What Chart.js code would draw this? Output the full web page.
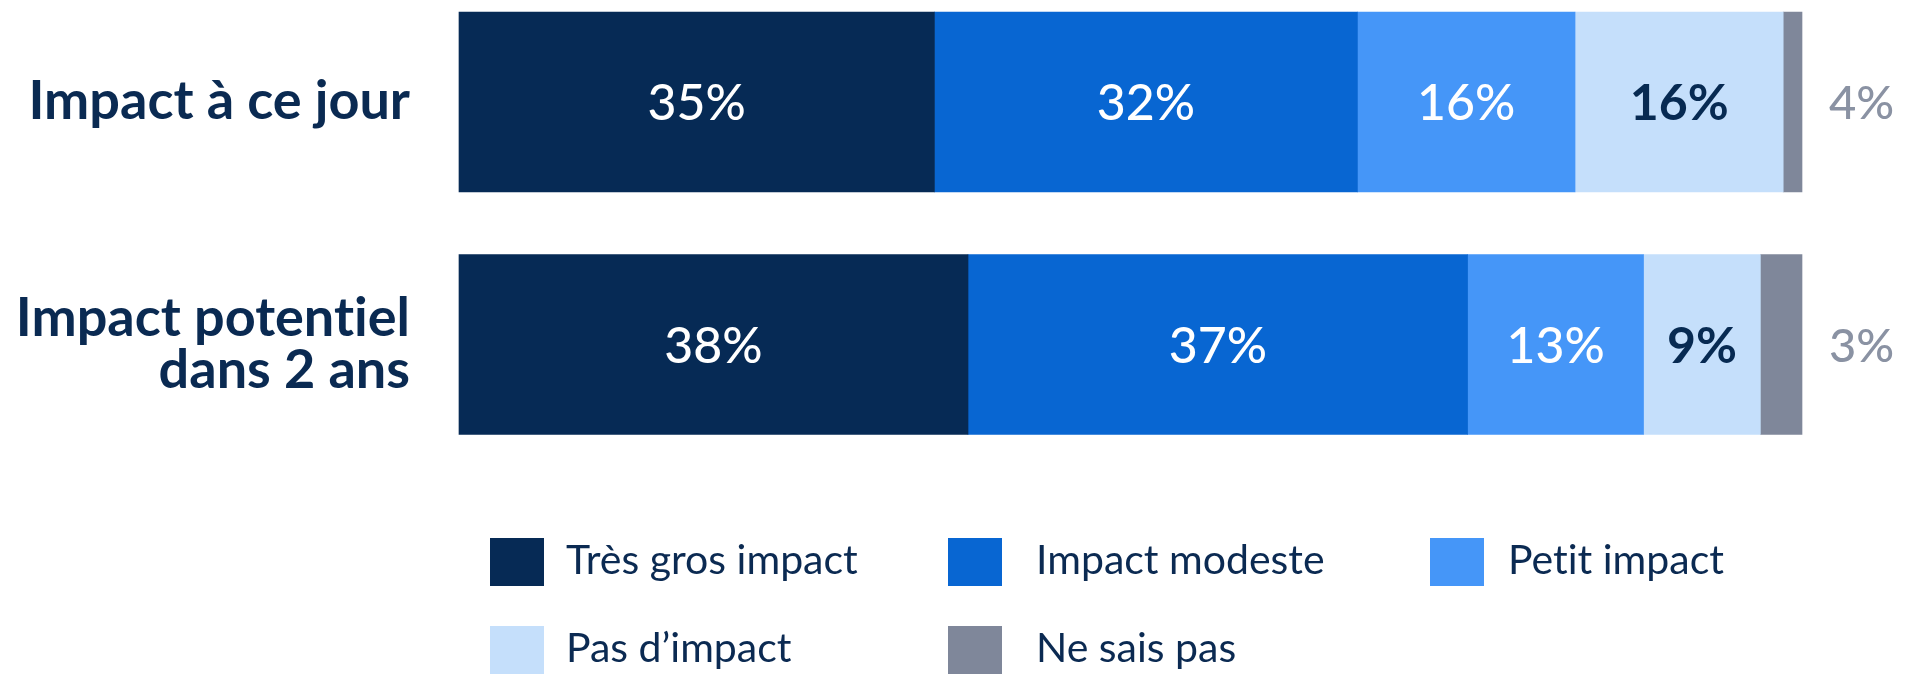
<!DOCTYPE html>
<html lang="fr">
<head>
<meta charset="utf-8">
<title>Impact</title>
<script src="https://cdn.jsdelivr.net/npm/chart.js@4.4.1/dist/chart.umd.min.js"></script>
<style>
  html, body { margin: 0; padding: 0; background: #fff; overflow: hidden; }
  #wrap { position: relative; width: 1922px; height: 678px; }
  #legend { position: absolute; left: 0; top: 0; width: 1922px; height: 678px; pointer-events: none; }
  .item { position: absolute; display: flex; align-items: center; font-family: Lato, sans-serif; font-size: 41px; color: #0b2a52; white-space: nowrap; font-variant-ligatures: none; }
  .item .box { width: 54px; height: 48px; margin-right: 24px; }
  .item .txt { position: relative; top: -3px; }
</style>
</head>
<body>
<div id="wrap">
  <canvas id="impactChart" width="1922" height="678"></canvas>
  <div id="legend"></div>
</div>
<script>
// categories (y axis)
const categories = [['Impact à ce jour'], ['Impact potentiel', 'dans 2 ans']];

// series names
const seriesNames = ['Très gros impact', 'Impact modeste', 'Petit impact', "Pas d’impact", 'Ne sais pas'];

// bar lengths as drawn in the picture (%)
const tresGros = [35.4, 37.9];
const modeste = [31.5, 37.2];
const petit = [16.2, 13.1];
const pasImpact = [15.5, 8.7];
const neSaisPas = [1.4, 3.1];

// percentages printed on the bars
const tresGrosPct = [35, 38];
const modestePct = [32, 37];
const petitPct = [16, 13];
const pasImpactPct = [16, 9];
const neSaisPasPct = [4, 3];

const colors = ['#062a55', '#0866d2', '#4596f8', '#c5dffb', '#7f879a'];
const labelColors = ['#ffffff', '#ffffff', '#ffffff', '#072a52', '#8a92a3'];

const navy = '#0a2a52';

// no "ti" ligature in the axis labels
const noLigatures = {
    id: 'noLigatures',
    beforeDraw(chart) {
        chart.ctx.textRendering = 'optimizeSpeed';
    }
};

// draws the percentages inside / next to each segment
const barLabels = {
    id: 'barLabels',
    afterDatasetsDraw(chart) {
        const ctx = chart.ctx;
        ctx.save();
        ctx.textBaseline = 'middle';
        chart.data.datasets.forEach((ds, di) => {
            const meta = chart.getDatasetMeta(di);
            meta.data.forEach((bar, i) => {
                const txt = ds.pct[i] + '%';
                ctx.fillStyle = ds.labelColor;
                if (ds.outside) {
                    ctx.font = '500 47px Lato, sans-serif';
                    ctx.textAlign = 'left';
                    ctx.fillText(txt, bar.x + 27, bar.y + 2);
                } else {
                    ctx.font = (ds.labelBold ? 'bold ' : '500 ') + '50px Lato, sans-serif';
                    ctx.textAlign = 'center';
                    ctx.fillText(txt, (bar.x + bar.base) / 2, bar.y + 2);
                }
            });
        });
        ctx.restore();
    }
};

const seriesValues = [tresGros, modeste, petit, pasImpact, neSaisPas];
const seriesPct = [tresGrosPct, modestePct, petitPct, pasImpactPct, neSaisPasPct];

const ctx = document.querySelector('#impactChart').getContext('2d');
const chart = new Chart(ctx, {
    type: 'bar',
    data: {
        labels: categories,
        datasets: seriesNames.map((name, k) => ({
            label: name,
            data: seriesValues[k],
            pct: seriesPct[k],
            backgroundColor: colors[k],
            labelColor: labelColors[k],
            labelBold: k === 3,
            outside: k === 4,
            borderWidth: 0,
            barThickness: 180,
            clip: false
        }))
    },
    options: {
        indexAxis: 'y',
        responsive: false,
        animation: false,
        devicePixelRatio: 1,
        layout: {
            padding: { top: 102, bottom: 333.5, left: 0, right: 120 }
        },
        scales: {
            x: {
                display: false,
                stacked: true,
                min: 0,
                max: 100
            },
            y: {
                stacked: true,
                offset: false,
                grid: { display: false, drawTicks: false },
                border: { display: false },
                afterFit: (scale) => { scale.width = 459; },
                ticks: {
                    color: navy,
                    padding: 49,
                    font: {
                        family: 'Lato, sans-serif',
                        size: 54,
                        weight: 'bold',
                        lineHeight: 0.97
                    }
                }
            }
        },
        plugins: {
            legend: { display: false },
            tooltip: { enabled: false }
        }
    },
    plugins: [noLigatures, barLabels]
});

// legend laid out as a grid, built from the chart's datasets
const legendCols = [490, 948, 1430];
const legendGaps = [22, 34, 24];
const legendRows = [537, 625];
const legendEl = document.getElementById('legend');
chart.data.datasets.forEach((ds, k) => {
    const item = document.createElement('div');
    item.className = 'item';
    item.style.left = legendCols[k % 3] + 'px';
    item.style.top = legendRows[Math.floor(k / 3)] + 'px';
    const box = document.createElement('span');
    box.className = 'box';
    box.style.background = ds.backgroundColor;
    box.style.marginRight = legendGaps[k % 3] + 'px';
    const txt = document.createElement('span');
    txt.className = 'txt';
    txt.textContent = ds.label;
    item.appendChild(box);
    item.appendChild(txt);
    legendEl.appendChild(item);
});
</script>
</body>
</html>
